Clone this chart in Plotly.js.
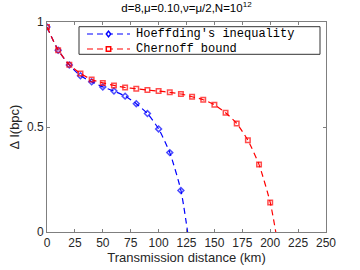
<!DOCTYPE html>
<html><head><meta charset="utf-8">
<script src="https://cdn.plot.ly/plotly-3.0.1.min.js"></script>
<style>html,body{margin:0;padding:0;background:#fff}#c{width:360px;height:270px}</style>
</head><body><div id="c"></div>
<script>
const hoefX = [0, 10, 20, 30, 40, 50, 60, 70, 80, 90, 100, 110, 120, 126];
const hoefY = [0.976, 0.866, 0.795, 0.744, 0.715, 0.691, 0.671, 0.647, 0.611, 0.564, 0.491, 0.378, 0.198, 0];
const chernX = [0, 10, 20, 30, 40, 50, 60, 70, 80, 90, 100, 110, 120, 130, 140, 150, 160, 170, 180, 190, 200, 205];
const chernY = [0.976, 0.866, 0.797, 0.755, 0.726, 0.710, 0.698, 0.688, 0.682, 0.676, 0.671, 0.665, 0.657, 0.644, 0.630, 0.606, 0.568, 0.517, 0.437, 0.321, 0.141, 0];
const seriesNames = ["Hoeffding's inequality", 'Chernoff bound'];
const seriesColors = ['#0000ff', '#ff0000'];
const xTicks = [0, 25, 50, 75, 100, 125, 150, 175, 200, 225, 250];
const yTicks = [0, 0.5, 1];
const yTickLabels = ['0', '0.5', '1'];

function sizes(n){ const s = new Array(n).fill(4.5); s[n-1] = 0; return s; }

const traces = [
  {x: hoefX, y: hoefY, name: seriesNames[0], mode: 'lines+markers', showlegend: false,
   line: {color: seriesColors[0], dash: '6px,4px', width: 1.2, shape: 'spline', smoothing: 0.6},
   marker: {symbol: 'diamond-open', size: sizes(hoefX.length), color: seriesColors[0], line: {width: 1.5, color: seriesColors[0]}}},
  {x: chernX, y: chernY, name: seriesNames[1], mode: 'lines+markers', showlegend: false,
   line: {color: seriesColors[1], dash: '6px,4px', width: 1.2, shape: 'spline', smoothing: 0.6},
   marker: {symbol: 'square-open', size: sizes(chernX.length), color: seriesColors[1], line: {width: 1.5, color: seriesColors[1]}}}
];

// custom legend (paper coordinates)
const W = 279, H = 210;
const lgX0 = 32 / W, lgX1 = 273 / W, lgY0 = 1 - 32.3 / H, lgY1 = 1 - 4.7 / H;
const rowY = [1 - 12 / H, 1 - 27 / H];
const smpX0 = 40 / W, smpX1 = 83 / W, smpXc = 61.5 / W, txtX = 87 / W;
const mw = 2.2 / W, mh = 2.2 / H;
const shapes = [
  {type: 'rect', xref: 'paper', yref: 'paper', x0: lgX0, x1: lgX1, y0: lgY0, y1: lgY1,
   line: {color: '#333', width: 1}, fillcolor: '#fff', layer: 'above'}
];
const annotations = [];
rowY.forEach((ry, i) => {
  shapes.push({type: 'line', xref: 'paper', yref: 'paper', x0: smpX0, x1: smpX1, y0: ry, y1: ry,
    line: {color: seriesColors[i], width: 1.2, dash: '6px,4px'}, layer: 'above'});
  if (i === 0) {
    shapes.push({type: 'path', xref: 'paper', yref: 'paper', layer: 'above',
      path: `M${smpXc - mw},${ry} L${smpXc},${ry + mh * 1.3} L${smpXc + mw},${ry} L${smpXc},${ry - mh * 1.3} Z`,
      line: {color: seriesColors[i], width: 1.5}, fillcolor: '#fff'});
  } else {
    shapes.push({type: 'rect', xref: 'paper', yref: 'paper', layer: 'above',
      x0: smpXc - mw, x1: smpXc + mw, y0: ry - mh, y1: ry + mh,
      line: {color: seriesColors[i], width: 1.5}, fillcolor: '#fff'});
  }
  annotations.push({xref: 'paper', yref: 'paper', x: txtX, y: ry, xanchor: 'left', yanchor: 'middle',
    text: seriesNames[i], showarrow: false,
    font: {family: 'Liberation Mono, Courier New, monospace', size: 12, color: '#000'}});
});

const axisCommon = {showgrid: false, zeroline: false, showline: true, mirror: 'ticks',
  linecolor: '#7f7f7f', linewidth: 1, ticks: 'inside', ticklen: 3, tickcolor: '#7f7f7f',
  tickfont: {family: 'Liberation Sans, Arial, sans-serif', size: 12, color: '#262626'}};

const layout = {
  width: 360, height: 270,
  margin: {l: 47, r: 34, t: 22, b: 38},
  paper_bgcolor: '#fff', plot_bgcolor: '#fff',
  title: {text: 'd=8,μ=0.10,ν=μ/2,N=10<sup>12</sup>', x: 0.518, xanchor: 'center', y: 0.955, yanchor: 'bottom',
    font: {family: 'Liberation Sans, Arial, sans-serif', size: 11.5, color: '#000'}},
  xaxis: Object.assign({}, axisCommon, {range: [0, 250], tickvals: xTicks,
    title: {text: 'Transmission distance (km)', standoff: 3, font: {family: 'Liberation Sans, Arial, sans-serif', size: 13, color: '#262626'}}}),
  yaxis: Object.assign({}, axisCommon, {range: [0, 1], tickvals: yTicks, ticktext: yTickLabels,
    title: {text: 'Δ I(bpc)', standoff: 4, font: {family: 'Liberation Sans, Arial, sans-serif', size: 13, color: '#262626'}}}),
  showlegend: false,
  shapes: shapes,
  annotations: annotations
};

Plotly.newPlot('c', traces, layout, {staticPlot: true, displayModeBar: false});
</script></body></html>
